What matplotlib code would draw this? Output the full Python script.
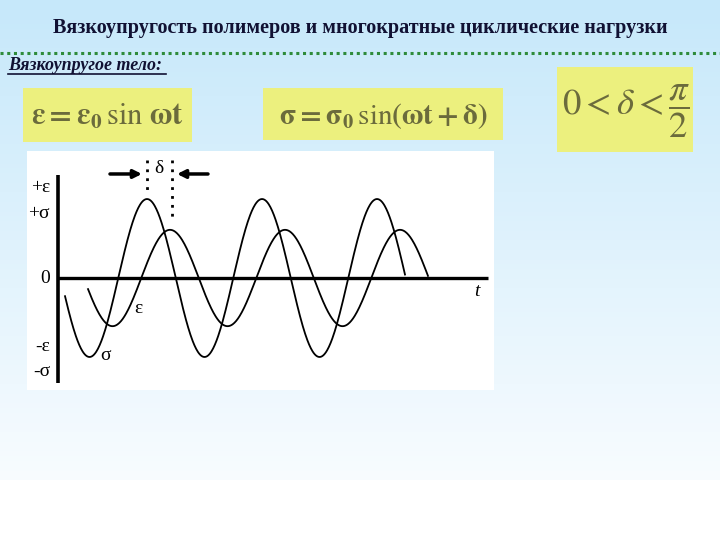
import matplotlib.pyplot as plt
import numpy as np
from matplotlib.patches import Rectangle

plt.rcParams['mathtext.fontset'] = 'stix'

# данные кривых (время в периодах, амплитуда в долях sigma0)
sigma_amp = 1.0
eps_amp = 0.61
sigma_zero_up = 0.524      # переход sigma через ноль вверх
delta_shift = 0.2          # отставание деформации, периоды
sigma_span = [0.061, 3.017]
eps_span = [sigma_span[0] + delta_shift, sigma_span[1] + delta_shift]

tick_pos = [1.14, 0.82, 0.0, -0.87, -1.18]
tick_labels = ['+ε', '+σ', '0', '-ε', '-σ']

W, H = 720, 540


def fx(x):
    return x / W


def fy(y):
    return 1 - y / H


fig = plt.figure(figsize=(7.2, 5.4), dpi=100)

# фон слайда: голубой градиент
bg = fig.add_axes([0, 0, 1, 1])
rows = np.linspace(0, 1, 540)
top = np.array([198, 232, 250]) / 255
bottom = np.array([248, 252, 255]) / 255
k = np.clip(rows / 0.89, 0, 1)[:, None]
grad = top * (1 - k) + bottom * k
grad[rows > 0.89] = 1.0
bg.imshow(np.repeat(grad[:, None, :], 2, axis=1), aspect='auto', extent=[0, 1, 0, 1])
bg.set_xlim(0, 1)
bg.set_ylim(0, 1)
bg.set_axis_off()

fig.text(0.5, fy(28), 'Вязкоупругость полимеров и многократные циклические нагрузки',
         ha='center', va='center', fontsize=14.5, fontweight='bold',
         family='Liberation Serif', color='#111133')
bg.plot([0, 1], [fy(53), fy(53)], color='#2e8b3a', lw=2.2, ls=(0, (1, 1.2)))

fig.text(fx(8), fy(66), 'Вязкоупругое тело:', ha='left', va='center', fontsize=13,
         fontweight='bold', style='italic', family='Liberation Serif', color='#111133')
bg.plot([fx(8), fx(166)], [fy(74), fy(74)], color='#111133', lw=1.2)

# жёлтые блоки с формулами
yellow = '#ecf07e'
olive = '#6b6b3c'
for x0, y0, x1, y1 in [(23, 88, 192, 142), (263, 88, 503, 140), (557, 67, 693, 152)]:
    fig.add_artist(Rectangle((fx(x0), fy(y1)), fx(x1 - x0), (y1 - y0) / H,
                             facecolor=yellow, edgecolor='none', transform=fig.transFigure))
fig.text(fx(107), fy(116), r'$\mathbf{\varepsilon=\varepsilon_0\,\sin\,\omega t}$',
         ha='center', va='center', fontsize=22, color=olive)
fig.text(fx(383), fy(116), r'$\mathbf{\sigma=\sigma_0\,\sin(\omega t+\delta)}$',
         ha='center', va='center', fontsize=21, color=olive)
fig.text(fx(626), fy(111), r'$0<\delta<\dfrac{\pi}{2}$',
         ha='center', va='center', fontsize=26.5, color=olive)

# график
ax = fig.add_axes([fx(27), fy(390), (494 - 27) / W, (390 - 151) / H])
ax.set_facecolor('white')
ax.set_xlim(-0.2696, 3.791)
ax.set_ylim(-1.418, 1.608)
for s in ax.spines.values():
    s.set_visible(False)
ax.set_xticks([])
ax.set_yticks([])

t_s = np.linspace(sigma_span[0], sigma_span[1], 600)
t_e = np.linspace(eps_span[0], eps_span[1], 600)
ax.plot(t_s, sigma_amp * np.sin(2 * np.pi * (t_s - sigma_zero_up)), color='black', lw=1.3)
ax.plot(t_e, eps_amp * np.sin(2 * np.pi * (t_e - sigma_zero_up - delta_shift)),
        color='black', lw=1.3)

ax.plot([0, 0], [-1.329, 1.304], color='black', lw=2.6, solid_capstyle='butt')
ax.plot([0, 3.739], [0, 0], color='black', lw=2.4, solid_capstyle='butt')

serif = dict(family='Liberation Serif', fontsize=14, ha='center', va='center')
for yv, lab in zip(tick_pos, tick_labels):
    ax.text(-0.07, yv, lab, family='Liberation Serif', fontsize=14, ha='right', va='center')

ax.text(0.696, -0.38, 'ε', **serif)
ax.text(0.409, -0.975, 'σ', **serif)
ax.text(3.643, -0.177, 't', style='italic', **serif)
ax.text(0.878, 1.392, 'δ', **serif)

# отметка сдвига фаз
peak_s = sigma_zero_up + 0.25
peak_e = peak_s + delta_shift
ax.plot([peak_s, peak_s], [1.494, 1.089], color='black', lw=2, ls=(0, (1, 2.2)))
ax.plot([peak_e + 0.017, peak_e + 0.017], [1.494, 0.76], color='black', lw=2, ls=(0, (1, 2.2)))
arrow = dict(arrowstyle='-|>', color='black', lw=2.5, mutation_scale=12, shrinkA=0, shrinkB=0)
ax.annotate('', xy=(0.730, 1.317), xytext=(0.452, 1.317), arrowprops=arrow)
ax.annotate('', xy=(1.035, 1.317), xytext=(1.304, 1.317), arrowprops=arrow)

fig.savefig('out.png', dpi=100)
